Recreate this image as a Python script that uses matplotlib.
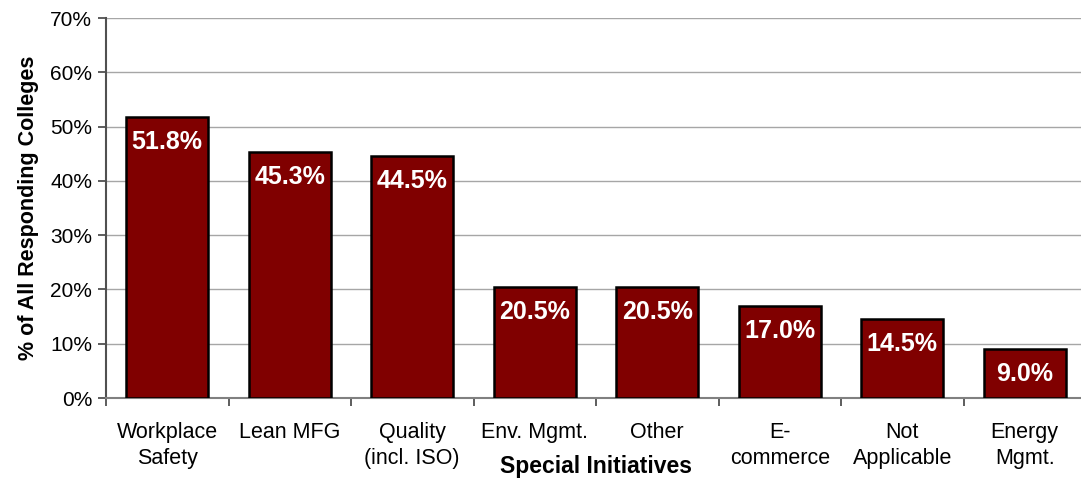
import matplotlib.pyplot as plt
import numpy as np

plt.rcParams['font.family'] = ['Liberation Sans', 'DejaVu Sans']

categories = ['Workplace\nSafety', 'Lean MFG', 'Quality\n(incl. ISO)', 'Env. Mgmt.',
              'Other', 'E-\ncommerce', 'Not\nApplicable', 'Energy\nMgmt.']
values = [51.8, 45.3, 44.5, 20.5, 20.5, 17.0, 14.5, 9.0]
labels = ['51.8%', '45.3%', '44.5%', '20.5%', '20.5%', '17.0%', '14.5%', '9.0%']

fig = plt.figure(figsize=(10.81, 4.8), dpi=100)
ax = fig.add_axes([106 / 1081, 82 / 480, 980 / 1081, 380 / 480])

x = np.arange(len(values))
ax.bar(x, values, width=0.67, color='#800000', edgecolor='black', linewidth=1.8, zorder=3)

for xi, v, lab in zip(x, values, labels):
    ax.text(xi, v - 2.4, lab, ha='center', va='top', color='white',
            fontsize=18, fontweight='bold', zorder=4)

ax.set_xlim(-0.5, len(values) - 0.5)
ax.set_ylim(0, 70)
ax.set_yticks(range(0, 71, 10))
ax.set_yticklabels([f'{t}%' for t in range(0, 71, 10)], fontsize=15)
ax.yaxis.grid(True, color='#a6a6a6', linewidth=1, zorder=0)

ax.set_xticks(x)
ax.set_xticklabels(categories, fontsize=15.5, linespacing=1.35)
ax.set_xticks(np.arange(-0.5, len(values), 1), minor=True)
ax.tick_params(axis='x', which='major', length=0, pad=17)
ax.tick_params(axis='x', which='minor', length=6, width=1.3, color='#505050', direction='out')
ax.tick_params(axis='y', length=6, width=1.3, color='#505050', pad=4)

for s in ['top', 'right']:
    ax.spines[s].set_visible(False)
ax.spines['left'].set_color('#505050')
ax.spines['left'].set_linewidth(1.5)
ax.spines['bottom'].set_color('#808080')
ax.spines['bottom'].set_linewidth(1.5)

ax.set_ylabel('% of All Responding Colleges', fontsize=15.5, fontweight='bold', labelpad=8)
fig.text(596 / 1081, 1 - 466 / 480, 'Special Initiatives', ha='center', va='center',
         fontsize=16.5, fontweight='bold')

fig.savefig('out.png', dpi=100)
